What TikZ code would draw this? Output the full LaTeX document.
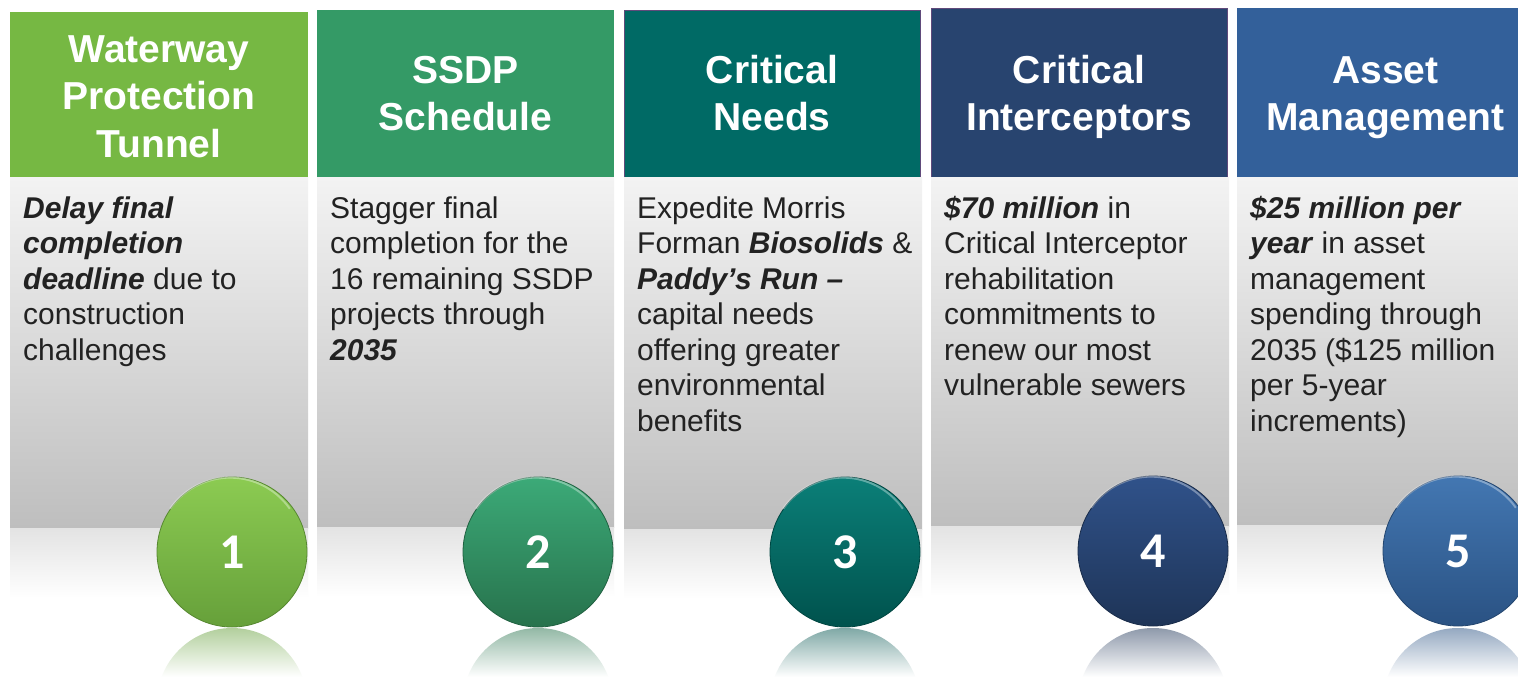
\documentclass[tikz,border=0pt]{standalone}
\usepackage{fontspec}
\setmainfont{Liberation Sans}
\newfontfamily\myNumFam{Carlito}
\definecolor{hA}{HTML}{76B843}
\definecolor{hB}{HTML}{349A66}
\definecolor{hC}{HTML}{006A65}
\definecolor{hD}{HTML}{28446F}
\definecolor{hE}{HTML}{33609A}
\definecolor{cAt}{HTML}{8CCB52}\definecolor{cAb}{HTML}{66A03A}
\definecolor{cBt}{HTML}{3CAA78}\definecolor{cBb}{HTML}{27724C}
\definecolor{cCt}{HTML}{0B7F78}\definecolor{cCb}{HTML}{00524D}
\definecolor{cDt}{HTML}{30528A}\definecolor{cDb}{HTML}{1E3457}
\definecolor{cEt}{HTML}{4377B2}\definecolor{cEb}{HTML}{2A5283}
\definecolor{bordr}{HTML}{604A7B}
\definecolor{txtgray}{HTML}{222222}
\definecolor{panTop}{HTML}{F3F3F3}
\definecolor{panBot}{HTML}{BEBEBE}
\definecolor{reflGray}{HTML}{E3E3E3}
\newcommand\myHdrFont{\fontsize{39}{47.5}\selectfont\bfseries}
\newcommand\myBodyFont{\fontsize{30}{35.5}\selectfont}
\newcommand\myNumFont{\myNumFam\bfseries\fontsize{50}{50}\selectfont}
\newcommand\bitx[1]{\textbf{\textit{#1}}}
\begin{document}
\begin{tikzpicture}[x=1pt,y=-1pt,
  hdr/.style={font=\myHdrFont, text=white, align=center, inner sep=0pt, anchor=north},
  bodytxt/.style={font=\myBodyFont, text=txtgray, align=left, inner sep=0pt, anchor=north west},
  badge/.style={circle, minimum size=150pt, inner sep=0pt, line width=0.8pt, text=white, font=\myNumFont},
  hilite/.style={white, opacity=0.35, line width=2pt},
  panel/.style={top color=panTop, bottom color=panBot},
  panrefl/.style={top color=reflGray, bottom color=white}]
\useasboundingbox (0,0) rectangle (1518,677);
\fill[white] (0,0) rectangle (1518,677);
\clip (0,0) rectangle (1518,677);

% headers
\fill[hA] (10,12) rectangle (308,177);
\fill[hB] (317,10) rectangle (614,177);
\fill[hC, draw=bordr, line width=1pt] (624,11) rectangle (920,177);
\fill[hD, draw=bordr, line width=1pt] (931,9) rectangle (1227,177);
\fill[hE] (1237,8) rectangle (1534,177);

% panels
\shade[panel] (10,177) rectangle (308,528);
\shade[panel] (317,177) rectangle (614,527);
\shade[panel] (624,177) rectangle (922,529);
\shade[panel] (931,177) rectangle (1229,526);
\shade[panel] (1237,177) rectangle (1534,525);
\shade[panrefl] (10,528) rectangle (308,598);
\shade[panrefl] (317,527) rectangle (614,597);
\shade[panrefl] (624,529) rectangle (922,599);
\shade[panrefl] (931,526) rectangle (1229,596);
\shade[panrefl] (1237,525) rectangle (1534,595);

% header texts
\node[hdr] (t1) at (159,34) {\rule{0pt}{28pt}Waterway\\Protection\\Tunnel};
\node[hdr] (t2) at (465.5,55) {\rule{0pt}{28pt}SSDP\\Schedule};
\node[hdr] (t3) at (772,55) {\rule{0pt}{28pt}Critical\\Needs};
\node[hdr] (t4) at (1079,55) {\rule{0pt}{28pt}Critical\\Interceptors};
\node[hdr] (t5) at (1385.5,55) {\rule{0pt}{28pt}Asset\\Management};

% body texts
\node[bodytxt] (b1) at (23,194) {\rule{0pt}{24pt}\bitx{Delay final}\\\bitx{completion}\\\bitx{deadline} due to\\construction\\challenges};
\node[bodytxt] (b2) at (330,194) {\rule{0pt}{24pt}Stagger final\\completion for the\\16 remaining SSDP\\projects through\\\bitx{2035}};
\node[bodytxt] (b3) at (637,194) {\rule{0pt}{24pt}Expedite Morris\\Forman \bitx{Biosolids} \&\\\bitx{Paddy’s Run –}\\capital needs\\offering greater\\environmental\\benefits};
\node[bodytxt] (b4) at (944,194) {\rule{0pt}{24pt}\bitx{\$70 million} in\\Critical Interceptor\\rehabilitation\\commitments to\\renew our most\\vulnerable sewers};
\node[bodytxt] (b5) at (1250,194) {\rule{0pt}{24pt}\bitx{\$25 million per}\\\bitx{year} in asset\\management\\spending through\\2035 (\$125 million\\per 5-year\\increments)};

% reflections of badges
\foreach \cx/\cc in {232/cAb,538/cBb,845/cCb,1153/cDb,1458/cEb}{
  \begin{scope}
    \clip (\cx,703) circle (75pt);
    \shade[top color=\cc!50!white, bottom color=white] (\cx-76,628) rectangle (\cx+76,677);
  \end{scope}
}

% badges
\node[badge, top color=cAt, bottom color=cAb, draw=cAb!85!black] (n1) at (232,552) {1};
\node[badge, top color=cBt, bottom color=cBb, draw=cBb!85!black] (n2) at (538,552) {2};
\node[badge, top color=cCt, bottom color=cCb, draw=cCb!85!black] (n3) at (845,552) {3};
\node[badge, top color=cDt, bottom color=cDb, draw=cDb!85!black] (n4) at (1153,551) {4};
\node[badge, top color=cEt, bottom color=cEb, draw=cEb!85!black] (n5) at (1458,551) {5};
\foreach \n in {n1,n2,n3,n4,n5}{
  \draw[hilite] (\n.145) arc[start angle=145, end angle=35, radius=73pt];
}
\end{tikzpicture}
\end{document}
